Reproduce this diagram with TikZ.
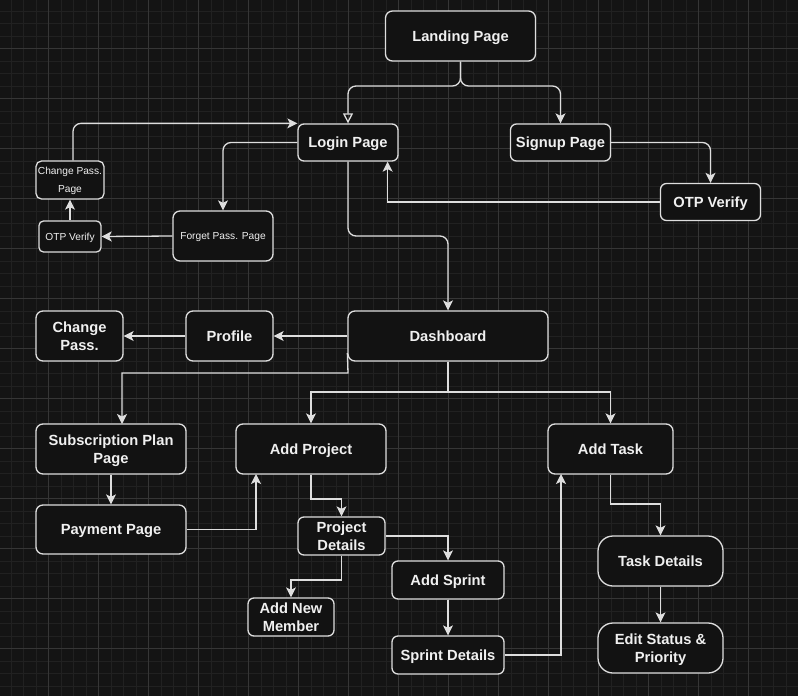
\documentclass[tikz,border=0pt]{standalone}
\usepackage{fontspec}
\setmainfont{Liberation Sans}
\usetikzlibrary{arrows.meta,calc}
\definecolor{bgc}{HTML}{141414}
\definecolor{gminor}{HTML}{212121}
\definecolor{gmajor}{HTML}{363636}
\definecolor{strokec}{HTML}{DEDEDE}
\definecolor{boxfill}{HTML}{121212}
\definecolor{txtc}{HTML}{F0F0F0}
\newcommand{\bigf}{\fontsize{14.7}{18}\selectfont\bfseries}
\newcommand{\smallf}{\fontsize{10.2}{18}\selectfont}
\tikzset{
  box/.style={draw=strokec, fill=boxfill, line width=1.3pt, rounded corners=7pt,
    text=txtc, font=\bigf, inner sep=0pt, align=center, text depth=0pt},
  smallbox/.style={box, font=\smallf, rounded corners=5.5pt},
  sz/.style 2 args={minimum width=#1pt, minimum height=#2pt},
  conn/.style={draw=strokec, line width=1.3pt, -{Stealth[length=10pt,width=10pt,inset=2.5pt]}},
  openconn/.style={draw=strokec, line width=1.3pt, -{Triangle[open,length=10pt,width=10pt]}},
}
\begin{document}
\begin{tikzpicture}[x=1pt,y=-1pt]
\fill[bgc] (0,0) rectangle (798,696);
\useasboundingbox (0,0) rectangle (798,696);
\foreach \k in {0,...,62} \draw[gminor,line width=0.7pt] (11+12.5*\k,0) -- (11+12.5*\k,696);
\foreach \k in {0,...,54} \draw[gminor,line width=0.7pt] (0,11+12.5*\k) -- (798,11+12.5*\k);
\foreach \k in {0,...,14} \draw[gmajor,line width=0.9pt] (48.5+50*\k,0) -- (48.5+50*\k,696);
\foreach \k in {0,...,12} \draw[gmajor,line width=0.9pt] (0,48.5+50*\k) -- (798,48.5+50*\k);

% nodes
\node[box, sz={150}{50}] (landing) at (460.5,36) {Landing Page};
\node[box, sz={100}{37}, rounded corners=6pt] (login) at (348,142.5) {Login Page};
\node[box, sz={100}{37}, rounded corners=6pt] (signup) at (560.5,142.5) {Signup Page};
\node[box, sz={100}{37}, rounded corners=6pt] (otpR) at (710.5,202) {OTP Verify};
\node[smallbox, sz={68}{38}] (cpp) at (70,180) {Change Pass.\\Page};
\node[smallbox, sz={62}{31}, rounded corners=4.5pt] (otpL) at (70,236.5) {OTP Verify};
\node[smallbox, sz={100}{50}, rounded corners=7pt] (forget) at (223,236) {Forget Pass. Page};
\node[box, sz={200}{50}] (dash) at (448,336) {Dashboard};
\node[box, sz={87}{50}] (profile) at (229.5,336) {Profile};
\node[box, sz={87}{50}] (cp) at (79.5,336) {Change\\Pass.};
\node[box, sz={150}{50}] (sub) at (111,449) {Subscription Plan\\Page};
\node[box, sz={150}{50}] (addproj) at (311,449) {Add Project};
\node[box, sz={125}{50}] (addtask) at (610.5,449) {Add Task};
\node[box, sz={150}{49}] (payment) at (111,529.5) {Payment Page};
\node[box, sz={87}{38}, rounded corners=6pt] (pd) at (341.5,536) {Project\\Details};
\node[box, sz={112}{38}, rounded corners=6pt] (sprint) at (448,580) {Add Sprint};
\node[box, sz={86}{38}, rounded corners=6pt] (member) at (291,617) {Add New\\Member};
\node[box, sz={112}{38}, rounded corners=6pt] (sd) at (448,655) {Sprint Details};
\node[box, sz={125}{50}, rounded corners=15pt] (task) at (660.5,561) {Task Details};
\node[box, sz={125}{50}, rounded corners=15pt] (edit) at (660.5,648) {Edit Status \&\\Priority};

% connectors
\draw[openconn, rounded corners=8pt] (landing.south) -- (460.5,86) -- (348,86) -- (login.north);
\draw[conn, rounded corners=8pt] (landing.south) -- (460.5,86) -- (560.5,86) -- (signup.north);
\draw[conn, rounded corners=8pt] (signup.east) -| (otpR.north);
\draw[conn] (otpR.west) -| ([xshift=-11pt]login.south east);
\draw[conn, rounded corners=8pt] (login.south) -- (348,236) -- (448,236) -- (dash.north);
\draw[conn, rounded corners=8pt] (login.west) -| (forget.north);
\draw[conn] (forget.west) -- (otpL.east);
\draw[conn] (otpL.north) -- (cpp.south);
\draw[conn, rounded corners=8pt] ([xshift=3pt]cpp.north) |- (login.north west);
\draw[conn] (dash.west) -- (profile.east);
\draw[conn] (profile.west) -- (cp.east);
\draw[conn] ([yshift=-17pt]dash.west) -- (348,373) -- (122,373) -- (122,424);
\draw[conn] (dash.south) -- (448,392) -- (311,392) -- (addproj.north);
\draw[conn] (dash.south) -- (448,392) -- (610.5,392) -- (addtask.north);
\draw[conn] (sub.south) -- (payment.north);
\draw[conn] (payment.east) -- (256,529.5) -- (256,474);
\draw[conn] (addproj.south) -- (311,499) -- (341.5,499) -- (pd.north);
\draw[conn] (pd.east) -- (448,536) -- (sprint.north);
\draw[conn] (pd.south) -- (341.5,580) -- (291,580) -- (member.north);
\draw[conn] (sprint.south) -- (sd.north);
\draw[conn] (sd.east) -- (561,655) -- (561,474);
\draw[conn] (addtask.south) -- (610.5,504) -- (660.5,504) -- (task.north);
\draw[conn] (task.south) -- (edit.north);
\end{tikzpicture}
\end{document}
